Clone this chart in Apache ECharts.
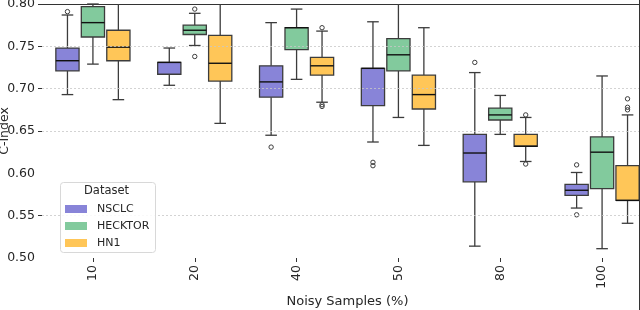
<!DOCTYPE html>
<html>
<head>
<meta charset="utf-8">
<script src="https://cdn.jsdelivr.net/npm/echarts@6/dist/echarts.min.js"></script>
<style>
html,body{margin:0;padding:0;background:#fff;}
#chart{width:640px;height:310px;}
</style>
</head>
<body>
<div id="chart"></div>
<script>
// ---- data ----
const categories = ['10', '20', '40', '50', '80', '100'];
const seriesNames = ['NSCLC', 'HECKTOR', 'HN1'];
const seriesColors = ['#8884d8', '#82ca9d', '#ffc658'];
// [lowWhisker, q1, median, q3, highWhisker]
const nsclcBoxes = [
  [0.693, 0.721, 0.733, 0.748, 0.787],
  [0.704, 0.717, 0.731, 0.731, 0.748],
  [0.645, 0.690, 0.708, 0.727, 0.778],
  [0.637, 0.680, 0.724, 0.724, 0.779],
  [0.514, 0.590, 0.624, 0.646, 0.719],
  [0.559, 0.574, 0.580, 0.587, 0.601]
];
const hecktorBoxes = [
  [0.729, 0.761, 0.778, 0.797, 0.800],
  [0.751, 0.764, 0.769, 0.775, 0.789],
  [0.711, 0.746, 0.772, 0.772, 0.794],
  [0.666, 0.721, 0.740, 0.759, 0.830],
  [0.646, 0.663, 0.669, 0.677, 0.692],
  [0.511, 0.582, 0.625, 0.643, 0.715]
];
const hn1Boxes = [
  [0.687, 0.733, 0.749, 0.769, 0.830],
  [0.659, 0.709, 0.730, 0.763, 0.830],
  [0.684, 0.716, 0.727, 0.737, 0.768],
  [0.633, 0.676, 0.693, 0.716, 0.772],
  [0.614, 0.632, 0.632, 0.646, 0.666],
  [0.541, 0.568, 0.568, 0.609, 0.669]
];
// outliers: [categoryIndex, value]
const nsclcOutliers = [[0, 0.791], [2, 0.631], [3, 0.613], [3, 0.609], [4, 0.731], [5, 0.610], [5, 0.551]];
const hecktorOutliers = [[1, 0.794], [1, 0.738]];
const hn1Outliers = [[2, 0.772], [2, 0.681], [2, 0.679], [4, 0.669], [4, 0.611], [5, 0.688], [5, 0.678], [5, 0.675]];
// gridlines / tick marks visible in the reference
const gridValues = [0.55, 0.65, 0.70, 0.75];
const tickValues = [0.55, 0.65, 0.70, 0.75, 0.80];

// ---- chart ----
const allBoxes = [nsclcBoxes, hecktorBoxes, hn1Boxes];
const allOutliers = [nsclcOutliers, hecktorOutliers, hn1Outliers];
const offsets = [-0.25, 0, 0.25];
const boxFrac = 0.228;
const lineCol = '#3c3c3c';

function boxRender(k) {
  return function (params, api) {
    const idx = api.value(0);
    const band = api.size([1, 0])[0];
    const cx = api.coord([idx, 0.5])[0] + offsets[k] * band;
    const topY = params.coordSys.y;
    const Y = v => Math.max(api.coord([idx, v])[1], topY);
    const bw = band * boxFrac, cw = bw / 2;
    const lo = Y(api.value(1)), q1 = Y(api.value(2)), md = Y(api.value(3)), q3 = Y(api.value(4)), hi = Y(api.value(5));
    const ls = {stroke: lineCol, lineWidth: 1.3};
    const children = [
      {type: 'line', shape: {x1: cx, y1: q1, x2: cx, y2: lo}, style: ls},
      {type: 'line', shape: {x1: cx, y1: q3, x2: cx, y2: hi}, style: ls},
      {type: 'line', shape: {x1: cx - cw / 2, y1: lo, x2: cx + cw / 2, y2: lo}, style: ls},
      {type: 'rect', shape: {x: cx - bw / 2, y: q3, width: bw, height: q1 - q3}, style: {fill: seriesColors[k], stroke: lineCol, lineWidth: 1.3}},
      {type: 'line', shape: {x1: cx - bw / 2, y1: md, x2: cx + bw / 2, y2: md}, style: {stroke: '#111', lineWidth: 1.4}}
    ];
    if (api.value(5) <= 0.8) {
      children.push({type: 'line', shape: {x1: cx - cw / 2, y1: hi, x2: cx + cw / 2, y2: hi}, style: ls});
    }
    return {type: 'group', children: children};
  };
}
function outRender(k) {
  return function (params, api) {
    const idx = api.value(0);
    const band = api.size([1, 0])[0];
    const p = api.coord([idx, api.value(1)]);
    return {type: 'circle', shape: {cx: p[0] + offsets[k] * band, cy: p[1], r: 2.2},
      style: {fill: 'none', stroke: lineCol, lineWidth: 1}};
  };
}

const series = [{
  type: 'line', data: [], z: 1, silent: true,
  markLine: {
    silent: true, symbol: 'none', animation: false,
    label: {show: false},
    lineStyle: {type: [2, 2], width: 0.8, color: '#c8c8c8'},
    data: gridValues.map(v => ({yAxis: v}))
  }
}];
for (let k = 0; k < 3; k++) {
  series.push({
    name: seriesNames[k], type: 'custom', renderItem: boxRender(k),
    itemStyle: {color: seriesColors[k]},
    encode: {x: 0, y: [1, 2, 3, 4, 5]},
    data: allBoxes[k].map((b, i) => [i].concat(b)), z: 3
  });
  series.push({
    name: seriesNames[k], type: 'custom', renderItem: outRender(k),
    itemStyle: {color: seriesColors[k]},
    encode: {x: 0, y: 1},
    data: allOutliers[k], z: 4
  });
}

const chart = echarts.init(document.getElementById('chart'), null, {renderer: 'canvas'});
const font = 'DejaVu Sans';
chart.setOption({
  animation: false,
  textStyle: {fontFamily: font},
  grid: {left: 42, right: -13, top: 4, bottom: 52, containLabel: false, outerBoundsMode: 'none'},
  xAxis: [{
    type: 'category', data: categories, position: 'bottom',
    axisLine: {show: false},
    axisTick: {show: true, alignWithLabel: true, length: 4, lineStyle: {color: '#333'}},
    axisLabel: {rotate: 90, fontSize: 12.5, color: '#262626', margin: 7, fontFamily: font},
    name: 'Noisy Samples (%)', nameLocation: 'middle', nameGap: 37, nameMoveOverlap: false,
    nameTextStyle: {fontSize: 13, color: '#262626', fontFamily: font},
    splitLine: {show: false}
  }, {
    type: 'category', data: categories, position: 'top',
    axisLine: {show: true, lineStyle: {color: '#333', width: 1.2}},
    axisTick: {show: false}, axisLabel: {show: false}
  }],
  yAxis: {
    type: 'value', min: 0.5, max: 0.8, interval: 0.05,
    axisLine: {show: false},
    axisTick: {show: true, length: 4, customValues: tickValues, lineStyle: {color: '#333'}},
    axisLabel: {formatter: v => v.toFixed(2), fontSize: 12.5, color: '#262626', margin: 7, fontFamily: font},
    splitLine: {show: false},
    name: 'C-Index', nameLocation: 'middle', nameGap: 31, nameMoveOverlap: false,
    nameTextStyle: {fontSize: 12.5, color: '#262626', fontFamily: font}
  },
  legend: {
    data: seriesNames, orient: 'vertical', left: 65, top: 203, padding: 0,
    icon: 'rect', itemWidth: 22, itemHeight: 8, itemGap: 5,
    itemStyle: {borderWidth: 0},
    textStyle: {fontSize: 11, color: '#262626', fontFamily: font, lineHeight: 12, padding: [0, 0, 0, 5]},
    z: 20
  },
  graphic: [
    {type: 'rect', left: 60, top: 182, z: 15,
      shape: {width: 95, height: 70, r: 3},
      style: {fill: 'rgba(255,255,255,0.85)', stroke: '#d8d8d8', lineWidth: 1}},
    {type: 'text', left: 84, top: 185, z: 16,
      style: {text: 'Dataset', fontSize: 11.5, fill: '#262626', fontFamily: font}},
    {type: 'line', z: 16, shape: {x1: 639.5, y1: 0, x2: 639.5, y2: 310}, style: {stroke: '#333', lineWidth: 1}}
  ],
  series: series
});
</script>
</body>
</html>
